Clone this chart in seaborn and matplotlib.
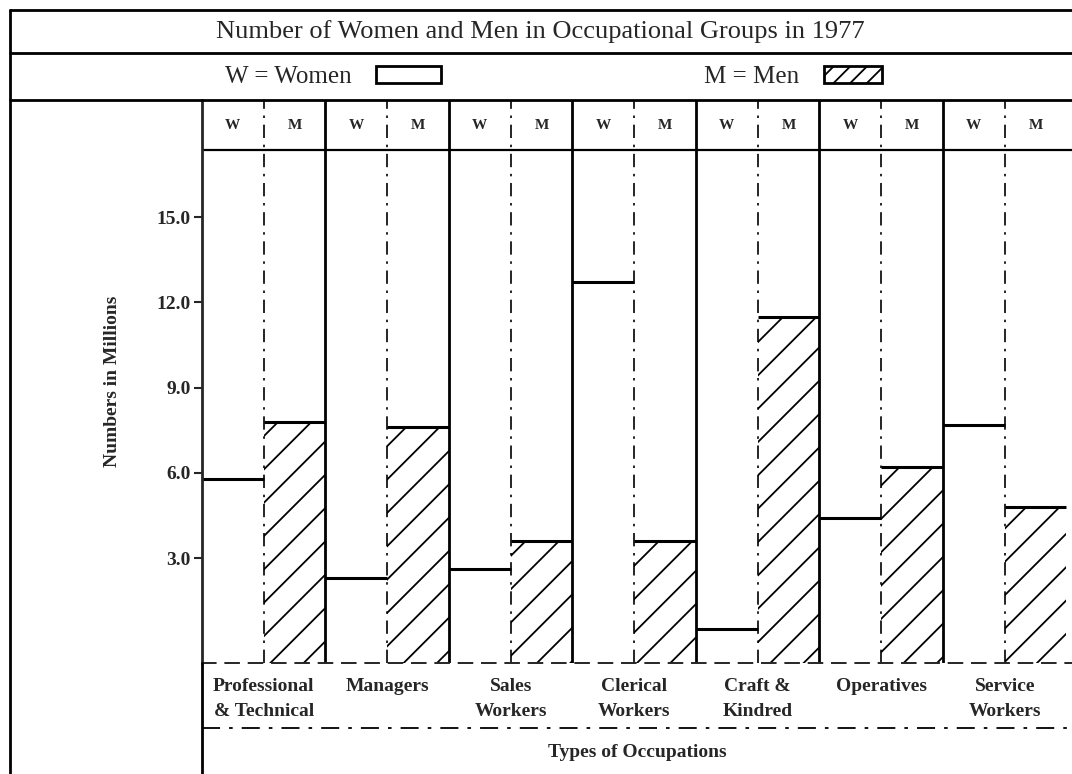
import pandas as pd
import matplotlib.pyplot as plt
import seaborn as sns
from matplotlib.lines import Line2D
from matplotlib.patches import Patch

# values (millions)
occupations = ["Professional\n& Technical", "Managers", "Sales\nWorkers", "Clerical\nWorkers",
               "Craft &\nKindred", "Operatives", "Service\nWorkers"]
women = [5.8, 2.3, 2.6, 12.7, 0.5, 4.4, 7.7]
men = [7.8, 7.6, 3.6, 3.6, 11.5, 6.2, 4.8]
yticks = [3.0, 6.0, 9.0, 12.0, 15.0]

df = pd.DataFrame({
    'occupation': occupations * 2,
    'sex': ['W'] * len(women) + ['M'] * len(men),
    'millions': women + men,
})

sns.set_style('white')
plt.rcParams['font.family'] = ['Liberation Serif', 'DejaVu Serif']
plt.rcParams['hatch.linewidth'] = 1.3

W, H = 1072, 774
fig = plt.figure(figsize=(W / 100, H / 100), dpi=100)


def fx(px):
    return px / W


def fy(py):
    return 1 - py / H


def fline(x0, y0, x1, y1, lw=2.0, ls='-'):
    fig.add_artist(Line2D([fx(x0), fx(x1)], [fy(y0), fy(y1)], color='black', lw=lw, ls=ls))


ax = fig.add_axes([fx(202), fy(663), fx(1072) - fx(202), fy(100) - fy(663)])

ybot, ytop, yhead = -0.69, 19.12, 17.36

sns.barplot(data=df, x='occupation', y='millions', hue='sex', hue_order=['W', 'M'],
            palette={'W': 'white', 'M': 'white'}, saturation=1, width=1, gap=0,
            errorbar=None, edgecolor='black', linewidth=0, legend=False, ax=ax)

# bars sit on the chart's baseline; women open, men hatched, both with a top rule
for cont, hatch in zip(ax.containers, ['', '/']):
    for p in cont:
        top = p.get_height()
        p.set_y(ybot)
        p.set_height(top - ybot)
        p.set_hatch(hatch)
        ax.plot([p.get_x(), p.get_x() + p.get_width()], [top, top],
                color='black', lw=2.2, solid_capstyle='butt')

# column separators and W/M header
for i in range(len(occupations)):
    if i > 0:
        ax.axvline(i - 0.5, color='black', lw=2)
    ax.axvline(i, color='black', lw=1.2, ls=(0, (8, 4, 1.5, 4)))
    ax.text(i - 0.25, (yhead + ytop) / 2, 'W', ha='center', va='center',
            fontsize=11, fontweight='bold')
    ax.text(i + 0.25, (yhead + ytop) / 2, 'M', ha='center', va='center',
            fontsize=11, fontweight='bold')
ax.axhline(yhead, color='black', lw=1.6)

ax.set_xlim(-0.5, 6.545)
ax.set_ylim(ybot, ytop)
ax.spines['top'].set_visible(False)
ax.spines['right'].set_visible(False)
ax.spines['left'].set_linewidth(2)
ax.spines['bottom'].set_linewidth(1.4)
ax.spines['bottom'].set_linestyle((0, (7, 5)))

ax.set_yticks(yticks)
ax.set_yticklabels([f'{v:.1f}' for v in yticks], fontsize=14, fontweight='bold')
ax.tick_params(axis='y', direction='out', left=True, length=6, width=1.5, pad=2)
ax.tick_params(axis='x', length=0, pad=11, labelsize=14)
for t in ax.get_xticklabels():
    t.set_fontweight('bold')
    t.set_linespacing(1.6)

ax.set_xlabel('Types of Occupations', fontsize=14, fontweight='bold', labelpad=17)
ax.set_ylabel('Numbers in Millions', fontsize=14, fontweight='bold', labelpad=26)

# frame and row rules
fline(10, 10, 1072, 10)
fline(10, 53, 1072, 53)
fline(10, 100, 1072, 100)
fline(10, 10, 10, 774)
fline(202, 663, 202, 774)
fline(202, 728, 1072, 728, lw=1.3, ls=(0, (10, 5, 2, 5)))

fig.text(fx(540), fy(32), 'Number of Women and Men in Occupational Groups in 1977',
         ha='center', va='center', fontsize=19)

fig.legend(handles=[Patch(facecolor='white', edgecolor='black', lw=2)], labels=['W = Women'],
           loc='center', bbox_to_anchor=(fx(333), fy(77)), frameon=False, markerfirst=False,
           fontsize=18, handlelength=2.6, handleheight=0.7, handletextpad=1.0)
fig.legend(handles=[Patch(facecolor='white', edgecolor='black', lw=2, hatch='//')], labels=['M = Men'],
           loc='center', bbox_to_anchor=(fx(793), fy(77)), frameon=False, markerfirst=False,
           fontsize=18, handlelength=2.3, handleheight=0.7, handletextpad=1.0)

fig.savefig('out.png', dpi=100)
